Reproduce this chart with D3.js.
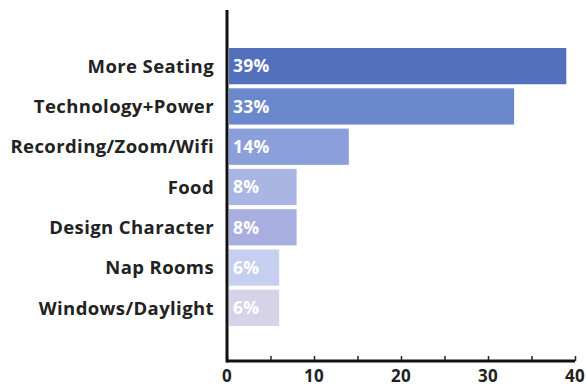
<!DOCTYPE html>
<html><head><meta charset="utf-8">
<script src="https://cdn.jsdelivr.net/npm/d3@7"></script>
<style>body{margin:0;background:#fff}svg{display:block}text{font-family:"Open Sans",sans-serif;font-weight:700}</style>
</head><body>
<script>
const categories = ["More Seating","Technology+Power","Recording/Zoom/Wifi","Food","Design Character","Nap Rooms","Windows/Daylight"];
const values = [39,33,14,8,8,6,6];
const barColors = ["#5370bd","#6c88cc","#8b9fda","#a9b6e3","#a8afe0","#c6cff0","#d5d3e8"];
const xTicks = [0,10,20,30,40];

const W=588,H=388;
const svg=d3.select("body").append("svg").attr("width",W).attr("height",H);
const x=d3.scaleLinear().domain([0,40]).range([227,575]);
const y=d3.scaleBand().domain(categories).range([46,328]).paddingInner(0.1).paddingOuter(0.05);
const axisY=361;

svg.selectAll("rect.bar").data(categories).enter().append("rect")
  .attr("x",x(0)+2).attr("y",d=>y(d))
  .attr("width",(d,i)=>x(values[i])-x(0)-2).attr("height",y.bandwidth())
  .attr("fill",(d,i)=>barColors[i]);

svg.selectAll("text.val").data(categories).enter().append("text")
  .attr("x",x(0)+6).attr("y",d=>y(d)+y.bandwidth()/2).attr("dy","0.36em")
  .attr("fill","#fff").attr("font-size",17.5).attr("letter-spacing",0.3).text((d,i)=>values[i]+"%");

svg.selectAll("text.cat").data(categories).enter().append("text")
  .attr("x",214).attr("y",d=>y(d)+y.bandwidth()/2).attr("dy","0.36em")
  .attr("text-anchor","end").attr("fill","#222").attr("font-size",18.5).attr("letter-spacing",0.4).text(d=>d);

// x axis
const xAxis=d3.axisBottom(x).tickValues(d3.range(0,41,5)).tickSize(-5).tickFormat("");
const gx=svg.append("g").attr("transform",`translate(0,${axisY})`).call(xAxis);
gx.select(".domain").attr("stroke","#111").attr("stroke-width",3).attr("d",`M${x(0)},0H${x(40)}`);
gx.selectAll(".tick line").attr("stroke","#222").attr("stroke-width",1.5);
svg.selectAll("text.xt").data(xTicks).enter().append("text")
  .attr("x",d=>x(d)).attr("y",382).attr("text-anchor","middle")
  .attr("fill","#222").attr("font-size",17).attr("letter-spacing",0.3).text(d=>d);

// y axis line
svg.append("line").attr("x1",x(0)).attr("x2",x(0)).attr("y1",10).attr("y2",axisY+1.5)
  .attr("stroke","#111").attr("stroke-width",3);
</script>
</body></html>
